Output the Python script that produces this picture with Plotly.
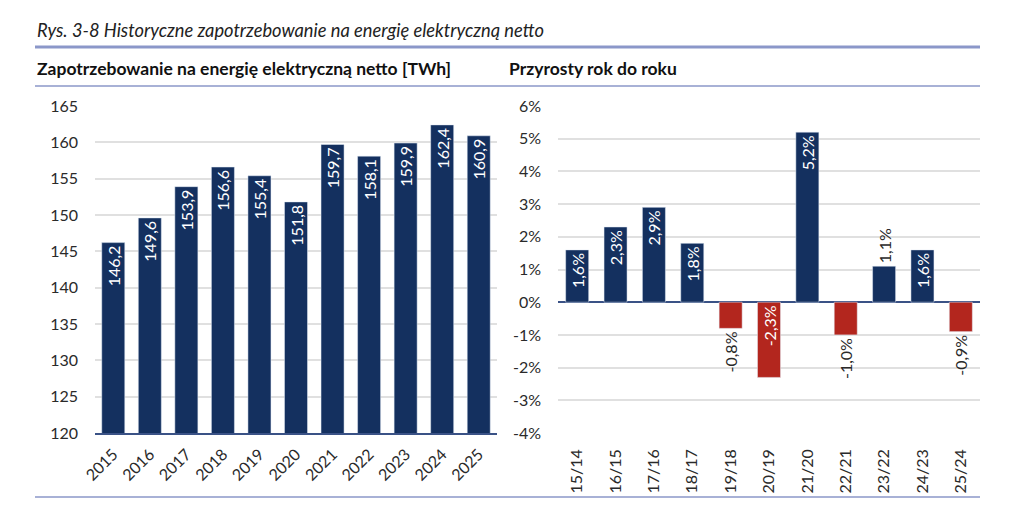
import plotly.graph_objects as go

years = ["2015", "2016", "2017", "2018", "2019", "2020", "2021", "2022", "2023", "2024", "2025"]
demand_twh = [146.2, 149.6, 153.9, 156.6, 155.4, 151.8, 159.7, 158.1, 159.9, 162.4, 160.9]

periods = ["15/14", "16/15", "17/16", "18/17", "19/18", "20/19", "21/20", "22/21", "23/22", "24/23", "25/24"]
growth_pct = [1.6, 2.3, 2.9, 1.8, -0.8, -2.3, 5.2, -1.0, 1.1, 1.6, -0.9]

left_ticks = [120, 125, 130, 135, 140, 145, 150, 155, 160, 165]
right_ticks = [-4, -3, -2, -1, 0, 1, 2, 3, 4, 5, 6]
right_ticktext = ["-4%", "-3%", "-2%", "-1%", "0%", "1%", "2%", "3%", "4%", "5%", "6%"]

title_text = "Rys. 3-8 Historyczne zapotrzebowanie na energię elektryczną netto"
left_title = "Zapotrzebowanie na energię elektryczną netto [TWh]"
right_title = "Przyrosty rok do roku"

NAVY = "#14305f"
RED = "#b3261e"
GRID = "#e0e0e0"
AXIS = "#3a5286"
TICK = "#2a2a2a"
FONT = "Lato"
W, H = 1024, 529

def px(x):
    return x / W

def py(y):
    return 1 - y / H

def fmt(v, suffix=""):
    return f"{v:.1f}".replace(".", ",") + suffix

fig = go.Figure()

fig.add_trace(go.Bar(
    x=years, y=demand_twh, marker_color=NAVY,
    text=[fmt(v) for v in demand_twh], textposition="inside",
    insidetextanchor="end", textangle=-90, constraintext="none",
    insidetextfont=dict(color="white", size=16, family=FONT),
    xaxis="x", yaxis="y", showlegend=False, hoverinfo="skip",
))

pos = [v if v >= 0 else None for v in growth_pct]
neg = [v if v < 0 else None for v in growth_pct]
pos_positions = ["inside" if v is not None and v >= 1.5 else "outside" for v in pos]
neg_positions = ["inside" if v is not None and v <= -1.5 else "outside" for v in neg]

fig.add_trace(go.Bar(
    x=periods, y=pos, marker_color=NAVY,
    text=[fmt(v, "%") if v is not None else "" for v in pos],
    textposition=pos_positions, insidetextanchor="end", textangle=-90,
    constraintext="none",
    insidetextfont=dict(color="white", size=16, family=FONT),
    outsidetextfont=dict(color=TICK, size=16, family=FONT),
    cliponaxis=False,
    xaxis="x2", yaxis="y2", showlegend=False, hoverinfo="skip",
))
fig.add_trace(go.Bar(
    x=periods, y=neg, marker_color=RED,
    text=[fmt(v, "%") if v is not None else "" for v in neg],
    textposition=neg_positions, insidetextanchor="start", textangle=-90,
    constraintext="none",
    insidetextfont=dict(color="white", size=16, family=FONT),
    outsidetextfont=dict(color=TICK, size=16, family=FONT),
    cliponaxis=False,
    xaxis="x2", yaxis="y2", showlegend=False, hoverinfo="skip",
))

ybot, ytop = py(433), py(106)

fig.update_layout(
    width=W, height=H,
    margin=dict(l=0, r=0, t=0, b=0, autoexpand=False),
    paper_bgcolor="white", plot_bgcolor="white",
    font=dict(family=FONT, color=TICK),
    barmode="overlay",
    xaxis=dict(domain=[px(95), px(497)], type="category", tickangle=-45,
               showline=True, linecolor=AXIS, linewidth=1.5, automargin=False,
               ticks="", tickfont=dict(size=16, color=TICK),
               ticklabelstandoff=4, showgrid=False),
    yaxis=dict(domain=[ybot, ytop], range=[120, 165], tickvals=left_ticks,
               showgrid=True, gridcolor=GRID, gridwidth=1.5, automargin=False,
               zeroline=False, tickfont=dict(size=16, color=TICK),
               ticklabelstandoff=16),
    xaxis2=dict(domain=[px(558), px(980)], type="category", tickangle=-90,
                showline=False, ticks="", tickfont=dict(size=16, color=TICK),
                ticklabelstandoff=12, showgrid=False, anchor="y2", automargin=False),
    yaxis2=dict(domain=[ybot, ytop], range=[-4, 6], tickvals=right_ticks,
                ticktext=right_ticktext, showgrid=True, gridcolor=GRID,
                gridwidth=1.5, zeroline=True, zerolinecolor=AXIS,
                zerolinewidth=1.5, tickfont=dict(size=16, color=TICK),
                ticklabelstandoff=16, anchor="x2", automargin=False),
)

fig.update_traces(width=0.63, selector=dict(xaxis="x"))
fig.update_traces(width=0.6, selector=dict(xaxis="x2"))

fig.add_annotation(text=title_text, xref="paper", yref="paper",
                   x=px(35), y=py(30), xanchor="left", yanchor="middle",
                   showarrow=False,
                   font=dict(family=FONT, size=18.3, color="#222222", style="italic"))
fig.add_annotation(text="<b>" + left_title + "</b>", xref="paper", yref="paper",
                   x=px(35), y=py(68), xanchor="left", yanchor="middle",
                   showarrow=False, font=dict(family=FONT, size=17.5, color="#111111"))
fig.add_annotation(text="<b>" + right_title + "</b>", xref="paper", yref="paper",
                   x=px(507), y=py(68), xanchor="left", yanchor="middle",
                   showarrow=False, font=dict(family=FONT, size=17.5, color="#111111"))

LINE = "#8b97c9"
fig.add_shape(type="line", xref="paper", yref="paper", x0=px(35), x1=px(980),
              y0=py(47), y1=py(47), line=dict(color=LINE, width=3))
fig.add_shape(type="line", xref="paper", yref="paper", x0=px(35), x1=px(980),
              y0=py(86), y1=py(86), line=dict(color=LINE, width=1.5))
fig.add_shape(type="line", xref="paper", yref="paper", x0=px(35), x1=px(980),
              y0=py(497), y1=py(497), line=dict(color=LINE, width=1.5))

fig.write_html("out.html")
